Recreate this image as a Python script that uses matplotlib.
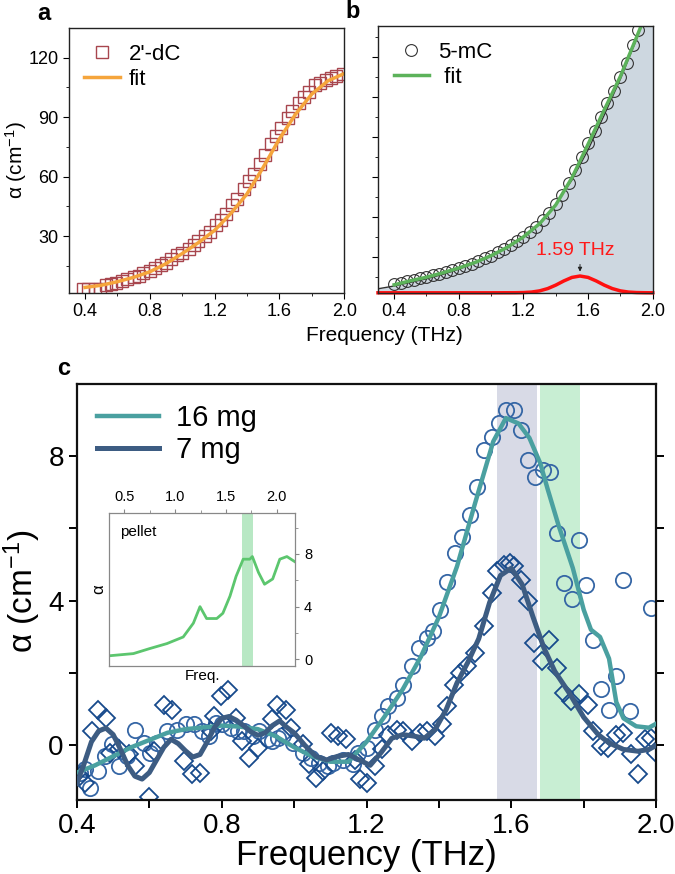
import numpy as np
import matplotlib
matplotlib.use('Agg')
import matplotlib.pyplot as plt
from matplotlib.ticker import FixedLocator

plt.rcParams['font.family'] = ['Liberation Sans', 'DejaVu Sans']
plt.rcParams['mathtext.fontset'] = 'custom'
plt.rcParams['mathtext.rm'] = 'Liberation Sans'
plt.rcParams['mathtext.it'] = 'Liberation Sans:italic'

# ---- panel a : 2'-dC ----
a_x = [0.39, 0.42, 0.46, 0.49, 0.53, 0.56, 0.59, 0.63, 0.66, 0.70, 0.73, 0.76, 0.80, 0.83,
       0.87, 0.90, 0.93, 0.97, 1.00, 1.04, 1.07, 1.10, 1.14, 1.17, 1.21, 1.24, 1.27, 1.31,
       1.34, 1.38, 1.41, 1.44, 1.48, 1.51, 1.55, 1.58, 1.61, 1.65, 1.68, 1.72, 1.75, 1.78,
       1.82, 1.85, 1.89, 1.92, 1.95, 1.99]
a_y = [3.2, 3.2, 3.3, 3.5, 5.2, 6.0, 6.6, 7.5, 8.2, 9.3, 10.0, 11.5, 12.6, 13.8,
       15.6, 16.7, 18.6, 20.4, 21.6, 23.8, 25.6, 27.7, 30.1, 32.2, 35.5, 38.4, 41.3, 45.6,
       48.8, 53.8, 57.9, 61.4, 66.3, 71.0, 76.5, 80.6, 84.8, 89.5, 93.0, 97.0, 100.2, 102.6,
       106.0, 107.3, 108.6, 109.6, 110.8, 111.6]
a_fit_x = [0.40, 0.50, 0.60, 0.70, 0.80, 0.90, 1.00, 1.10, 1.20, 1.30, 1.40, 1.50, 1.60,
           1.70, 1.80, 1.90, 2.00]
a_fit_y = [4.2, 5.3, 7.1, 9.3, 12.1, 16.2, 21.3, 26.8, 33.0, 41.5, 51.4, 64.8, 79.1,
           91.6, 101.7, 108.4, 112.0]

# ---- panel b : 5-mC ----
b_x = [0.40, 0.44, 0.48, 0.52, 0.56, 0.60, 0.64, 0.68, 0.72, 0.76, 0.80, 0.84, 0.88,
       0.92, 0.96, 1.00, 1.04, 1.08, 1.12, 1.16, 1.20, 1.24, 1.28, 1.32, 1.36, 1.40,
       1.44, 1.48, 1.52, 1.56, 1.60, 1.64, 1.68, 1.72, 1.76, 1.80, 1.84, 1.88, 1.91]
b_y = [0.21, 0.25, 0.29, 0.33, 0.37, 0.40, 0.44, 0.48, 0.53, 0.58, 0.63, 0.68, 0.73,
       0.79, 0.86, 0.93, 1.01, 1.10, 1.19, 1.29, 1.40, 1.52, 1.65, 1.82, 2.00, 2.22,
       2.45, 2.75, 3.08, 3.40, 3.75, 4.05, 4.40, 4.75, 5.05, 5.40, 5.75, 6.20, 6.57]
b_fit_x = [0.40, 0.50, 0.60, 0.70, 0.80, 0.90, 1.00, 1.10, 1.20, 1.30, 1.40, 1.50, 1.60,
           1.70, 1.80, 1.90, 1.93]
b_fit_y = [0.20, 0.30, 0.39, 0.50, 0.62, 0.76, 0.93, 1.14, 1.40, 1.73, 2.20, 2.88, 3.72,
           4.58, 5.42, 6.40, 6.70]
b_env_x = [0.30, 0.40, 0.50, 0.60, 0.70, 0.80, 0.90, 1.00, 1.10, 1.20, 1.30, 1.40, 1.50,
           1.60, 1.70, 1.80, 1.85, 1.90, 1.95, 2.00]
b_env_y = [0.10, 0.17, 0.26, 0.35, 0.46, 0.59, 0.74, 0.92, 1.13, 1.40, 1.74, 2.22, 2.82,
           3.58, 4.45, 5.35, 5.85, 6.35, 6.95, 7.50]
b_peak_x = [0.30, 1.00, 1.15, 1.20, 1.25, 1.30, 1.35, 1.40, 1.45, 1.50, 1.55, 1.60, 1.65,
            1.70, 1.75, 1.80, 1.85, 1.90, 1.95, 2.00]
b_peak_y = [0.0, 0.0, 0.002, 0.006, 0.018, 0.048, 0.105, 0.192, 0.297, 0.385, 0.42, 0.385,
            0.297, 0.192, 0.105, 0.048, 0.018, 0.006, 0.002, 0.0]

# ---- panel c : 16 mg / 7 mg ----
c16_x = [0.408, 0.422, 0.436, 0.459, 0.478, 0.496, 0.515, 0.538, 0.561, 0.584, 0.603, 0.621,
         0.649, 0.677, 0.700, 0.723, 0.746, 0.765, 0.783, 0.802, 0.825, 0.844, 0.862, 0.885,
         0.903, 0.927, 0.940, 0.955, 0.968, 0.996, 1.024, 1.047, 1.070, 1.093, 1.107, 1.135,
         1.163, 1.177, 1.200, 1.223, 1.242, 1.260, 1.283, 1.302, 1.325, 1.344, 1.367, 1.385,
         1.404, 1.422, 1.445, 1.464, 1.487, 1.506, 1.524, 1.547, 1.566, 1.584, 1.607, 1.626,
         1.647, 1.666, 1.688, 1.707, 1.726, 1.746, 1.767, 1.786, 1.806, 1.827, 1.848, 1.869,
         1.888, 1.908, 1.927, 1.987]
c16_y = [-0.75, -0.66, -1.17, -0.71, -0.29, 0.03, -0.57, -0.29, 0.44, 0.07, -0.20, 0.07,
         0.40, 0.44, 0.58, 0.58, 0.40, 0.26, 0.63, 0.58, 0.49, 0.40, 0.40, 0.26,
         0.40, 0.17, 0.12, 0.21, 0.30, 0.07, -0.20, -0.34, -0.48, -0.57, -0.48, -0.39,
         -0.52, -0.20, -0.06, 0.44, 0.81, 1.09, 1.31, 1.68, 2.19, 2.69, 2.97, 3.15,
         3.75, 4.53, 5.31, 5.77, 6.37, 7.14, 8.17, 8.53, 8.90, 9.27, 9.27, 8.72,
         7.89, 7.43, 7.61, 7.57, 5.87, 4.49, 4.06, 5.68, 4.44, 2.92, 1.56, 0.99,
         1.91, 4.58, 0.95, 3.80]
c7_x = [0.408, 0.422, 0.441, 0.459, 0.480, 0.492, 0.515, 0.543, 0.561, 0.598, 0.612, 0.640,
        0.663, 0.695, 0.719, 0.740, 0.769, 0.779, 0.797, 0.818, 0.839, 0.857, 0.876, 0.899,
        0.940, 0.954, 0.978, 0.992, 1.024, 1.042, 1.061, 1.079, 1.102, 1.121, 1.144, 1.167,
        1.181, 1.200, 1.223, 1.242, 1.260, 1.284, 1.302, 1.325, 1.348, 1.367, 1.390, 1.408,
        1.422, 1.441, 1.459, 1.477, 1.500, 1.524, 1.547, 1.561, 1.580, 1.595, 1.607, 1.626,
        1.647, 1.663, 1.686, 1.705, 1.727, 1.746, 1.764, 1.788, 1.811, 1.825, 1.848, 1.866,
        1.889, 1.908, 1.931, 1.949, 1.968, 1.986, 2.000]
c7_y = [-0.85, -1.05, 0.40, 0.99, 0.76, -0.20, -0.09, -0.25, -0.57, -1.42, -0.16, 1.13,
        0.99, -0.43, -0.80, -0.75, 0.40, 0.81, 1.36, 1.54, 0.76, 0.12, -0.34, -0.06,
        0.72, 1.13, 0.99, 0.49, 0.03, -0.52, -0.89, -0.71, 0.35, 0.26, 0.17, -0.39,
        -0.94, -1.03, -0.57, -0.11, 0.30, 0.44, 0.40, 0.12, 0.35, 0.40, 0.26, 0.58,
        1.09, 1.68, 2.00, 2.19, 2.56, 3.29, 4.21, 4.81, 4.99, 5.04, 4.95, 4.58,
        3.98, 2.83, 2.33, 2.92, 2.14, 1.45, 1.22, 1.41, 1.13, 0.40, -0.02, -0.06,
        0.30, 0.35, -0.25, -0.80, 0.17, 0.21, -0.20]
fit16_x = [0.40, 0.45, 0.50, 0.55, 0.60, 0.65, 0.70, 0.75, 0.80, 0.85, 0.90, 0.95, 1.00,
           1.05, 1.10, 1.15, 1.20, 1.25, 1.30, 1.35, 1.40, 1.45, 1.50, 1.55, 1.585, 1.62,
           1.65, 1.68, 1.70, 1.73, 1.77, 1.80, 1.82, 1.845, 1.87, 1.89, 1.91, 1.945, 1.98, 2.00]
fit16_y = [-0.75, -0.55, -0.30, -0.05, 0.15, 0.35, 0.45, 0.50, 0.55, 0.52, 0.45, 0.25, -0.05,
           -0.30, -0.45, -0.45, 0.10, 0.80, 1.55, 2.45, 3.55, 4.95, 6.70, 8.40, 9.05, 8.90,
           8.50, 7.80, 7.10, 6.10, 4.90, 3.75, 3.20, 3.00, 2.40, 1.20, 0.75, 0.53, 0.49, 0.60]
fit7_x = [0.40, 0.42, 0.44, 0.46, 0.48, 0.50, 0.52, 0.54, 0.56, 0.58, 0.60, 0.62, 0.64, 0.66,
          0.68, 0.70, 0.72, 0.74, 0.76, 0.78, 0.80, 0.82, 0.84, 0.86, 0.88, 0.90, 0.92, 0.94,
          0.96, 0.98, 1.00, 1.03, 1.06, 1.09, 1.12, 1.15, 1.18, 1.21, 1.24, 1.27, 1.30, 1.33,
          1.36, 1.39, 1.42, 1.45, 1.48, 1.51, 1.54, 1.57, 1.60, 1.63, 1.66, 1.69, 1.72, 1.76,
          1.80, 1.84, 1.87, 1.91, 1.95, 1.98, 2.00]
fit7_y = [-1.05, -0.50, 0.10, 0.40, 0.48, 0.30, -0.10, -0.55, -0.85, -0.93, -0.75, -0.40,
          -0.05, 0.17, 0.05, -0.15, -0.32, -0.25, 0.10, 0.50, 0.75, 0.80, 0.70, 0.55, 0.38,
          0.28, 0.35, 0.55, 0.68, 0.50, 0.35, 0.00, -0.30, -0.40, -0.30, -0.25, -0.40, -0.55,
          -0.20, 0.20, 0.30, 0.26, 0.20, 0.45, 0.99, 1.73, 2.30, 2.95, 3.95, 4.70, 4.90, 4.45,
          3.55, 2.70, 2.05, 1.45, 0.78, 0.30, 0.07, -0.11, -0.16, -0.11, 0.00]
gray_band = (1.56, 1.67)
green_band = (1.68, 1.79)

# ---- inset : pellet ----
pel_x = [0.36, 0.59, 0.75, 0.92, 1.08, 1.18, 1.245, 1.31, 1.41, 1.47, 1.54, 1.60, 1.67,
         1.735, 1.76, 1.82, 1.88, 1.96, 2.03, 2.10, 2.18]
pel_y = [0.28, 0.44, 0.82, 1.2, 1.7, 2.75, 4.0, 3.1, 3.1, 3.5, 4.8, 6.3, 7.6, 7.6, 7.8,
         6.6, 5.7, 6.1, 7.6, 7.8, 7.4]
pel_band = (1.66, 1.77)

fig = plt.figure(figsize=(6.75, 8.74), dpi=100)
fmt1 = plt.FuncFormatter(lambda v, p: f'{v:.1f}')

def style(ax, lw=1.0):
    for s in ax.spines.values():
        s.set_linewidth(lw)
        s.set_color('#222222')

# panel a
ax = fig.add_axes([0.102, 0.665, 0.408, 0.303])
style(ax)
ax.plot(a_x, a_y, 's', ms=9, mfc='none', mec='#a8464e', mew=1.0, label="2'-dC")
ax.plot(a_fit_x, a_fit_y, '-', color='#f5a53c', lw=2.5, label='fit')
ax.set_xlim(0.3, 2.0)
ax.set_ylim(1.5, 135)
ax.set_xticks([0.4, 0.8, 1.2, 1.6, 2.0])
ax.xaxis.set_major_formatter(fmt1)
ax.xaxis.set_minor_locator(FixedLocator([0.6, 1.0, 1.4, 1.8]))
ax.set_yticks([30, 60, 90, 120])
ax.yaxis.set_minor_locator(FixedLocator([15, 45, 75, 105]))
ax.tick_params(which='both', direction='out', labelsize=13, top=False, right=False)
ax.tick_params(which='major', length=4)
ax.tick_params(which='minor', length=2.5)
ax.set_ylabel('α (cm$^{-1}$)', fontsize=15)
ax.yaxis.set_label_coords(-0.145, 0.5)
ax.legend(loc='upper left', frameon=False, fontsize=16, handlelength=1.6,
          handletextpad=0.4, borderaxespad=0.3, labelspacing=0.2)
fig.text(0.055, 0.985, 'a', fontsize=17, fontweight='bold', va='center')

# panel b
ax = fig.add_axes([0.560, 0.665, 0.407, 0.305])
style(ax)
ax.fill_between(b_env_x, b_env_y, 0, color='#cdd7e0', lw=0)
ax.plot(b_env_x, b_env_y, '-', color='#333333', lw=1.0)
ax.plot(b_x, b_y, 'o', ms=8.5, mfc='none', mec='#333333', mew=0.8, label='5-mC')
ax.plot(b_fit_x, b_fit_y, '-', color='#5cb25a', lw=2.5, label=' fit')
ax.plot(b_peak_x, b_peak_y, '-', color='#ff1010', lw=2.5, clip_on=False)
ax.annotate('', xy=(1.55, 0.46), xytext=(1.55, 0.78),
            arrowprops=dict(arrowstyle='-|>', color='#222222', lw=0.7, mutation_scale=6))
ax.text(1.52, 1.07, '1.59 THz', color='#ff1a1a', fontsize=14, ha='center', va='center')
ax.set_xlim(0.3, 2.0)
ax.set_ylim(0, 6.675)
ax.set_xticks([0.4, 0.8, 1.2, 1.6, 2.0])
ax.xaxis.set_major_formatter(fmt1)
ax.xaxis.set_minor_locator(FixedLocator([0.6, 1.0, 1.4, 1.8]))
ax.set_yticks(np.arange(0.9, 6.6, 1.0))
ax.yaxis.set_minor_locator(FixedLocator(np.arange(0.4, 6.6, 1.0)))
ax.set_yticklabels([])
ax.tick_params(which='both', direction='out', labelsize=13, top=False, right=False)
ax.tick_params(which='major', length=4)
ax.tick_params(which='minor', length=2.5)
ax.legend(loc='upper left', frameon=False, fontsize=16, handlelength=1.6,
          handletextpad=0.4, borderaxespad=0.3, labelspacing=0.2)
fig.text(0.512, 0.987, 'b', fontsize=17, fontweight='bold', va='center')

fig.text(0.57, 0.616, 'Frequency (THz)', fontsize=15, ha='center', va='center')

# panel c
ax = fig.add_axes([0.114, 0.085, 0.858, 0.476])
for s in ax.spines.values():
    s.set_linewidth(1.6)
    s.set_color('#111111')
ax.axvspan(*gray_band, color='#d8dae6', lw=0, zorder=0)
ax.axvspan(*green_band, color='#c8eed3', lw=0, zorder=0)
ax.plot(c16_x, c16_y, 'o', ms=11, mfc='none', mec='#3566a5', mew=1.3, zorder=2)
ax.plot(c7_x, c7_y, 'D', ms=9.5, mfc='none', mec='#174a8c', mew=1.3, zorder=2)
ax.plot(fit16_x, fit16_y, '-', color='#4aa0a0', lw=3.2, zorder=3, label='16 mg')
ax.plot(fit7_x, fit7_y, '-', color='#3d5c82', lw=3.6, zorder=3, label='7 mg')
ax.set_xlim(0.4, 2.0)
ax.set_ylim(-1.5, 10)
ax.set_xticks([0.4, 0.8, 1.2, 1.6, 2.0])
ax.xaxis.set_major_formatter(fmt1)
ax.xaxis.set_minor_locator(FixedLocator([0.6, 1.0, 1.4, 1.8]))
ax.set_yticks([0, 4, 8])
ax.yaxis.set_minor_locator(FixedLocator([2, 6]))
ax.tick_params(which='both', direction='out', labelsize=20, top=False, right=True,
               width=1.4)
ax.tick_params(which='major', length=6)
ax.tick_params(which='minor', length=6)
ax.set_xlabel('Frequency (THz)', fontsize=25, labelpad=0)
ax.set_ylabel('α (cm$^{-1}$)', fontsize=24, labelpad=4)
ax.legend(loc='upper left', frameon=False, fontsize=21, handlelength=2.1,
          handletextpad=0.6, borderaxespad=0.3, labelspacing=0.15)
fig.text(0.085, 0.578, 'c', fontsize=17, fontweight='bold', va='center')

# inset
ax = fig.add_axes([0.1615, 0.238, 0.2756, 0.175])
for s in ax.spines.values():
    s.set_linewidth(0.9)
    s.set_color('#888888')
ax.axvspan(*pel_band, color='#b8e8c4', lw=0, zorder=0)
ax.plot(pel_x, pel_y, '-', color='#5cc66e', lw=2.0)
ax.set_xlim(0.35, 2.18)
ax.set_ylim(-0.5, 11.1)
ax.xaxis.tick_top()
ax.yaxis.tick_right()
ax.set_xticks([0.5, 1.0, 1.5, 2.0])
ax.xaxis.set_minor_locator(FixedLocator([0.75, 1.25, 1.75]))
ax.set_yticks([0, 4, 8])
ax.yaxis.set_minor_locator(FixedLocator([2, 6, 10]))
ax.tick_params(which='both', direction='out', labelsize=10.5, color='#888888')
ax.tick_params(which='major', length=3)
ax.tick_params(which='minor', length=2)
ax.set_xlabel('Freq.', fontsize=11, labelpad=2)
ax.set_ylabel('α', fontsize=12, labelpad=2)
ax.text(0.06, 0.85, 'pellet', transform=ax.transAxes, fontsize=11)

fig.savefig('out.png', dpi=100)
